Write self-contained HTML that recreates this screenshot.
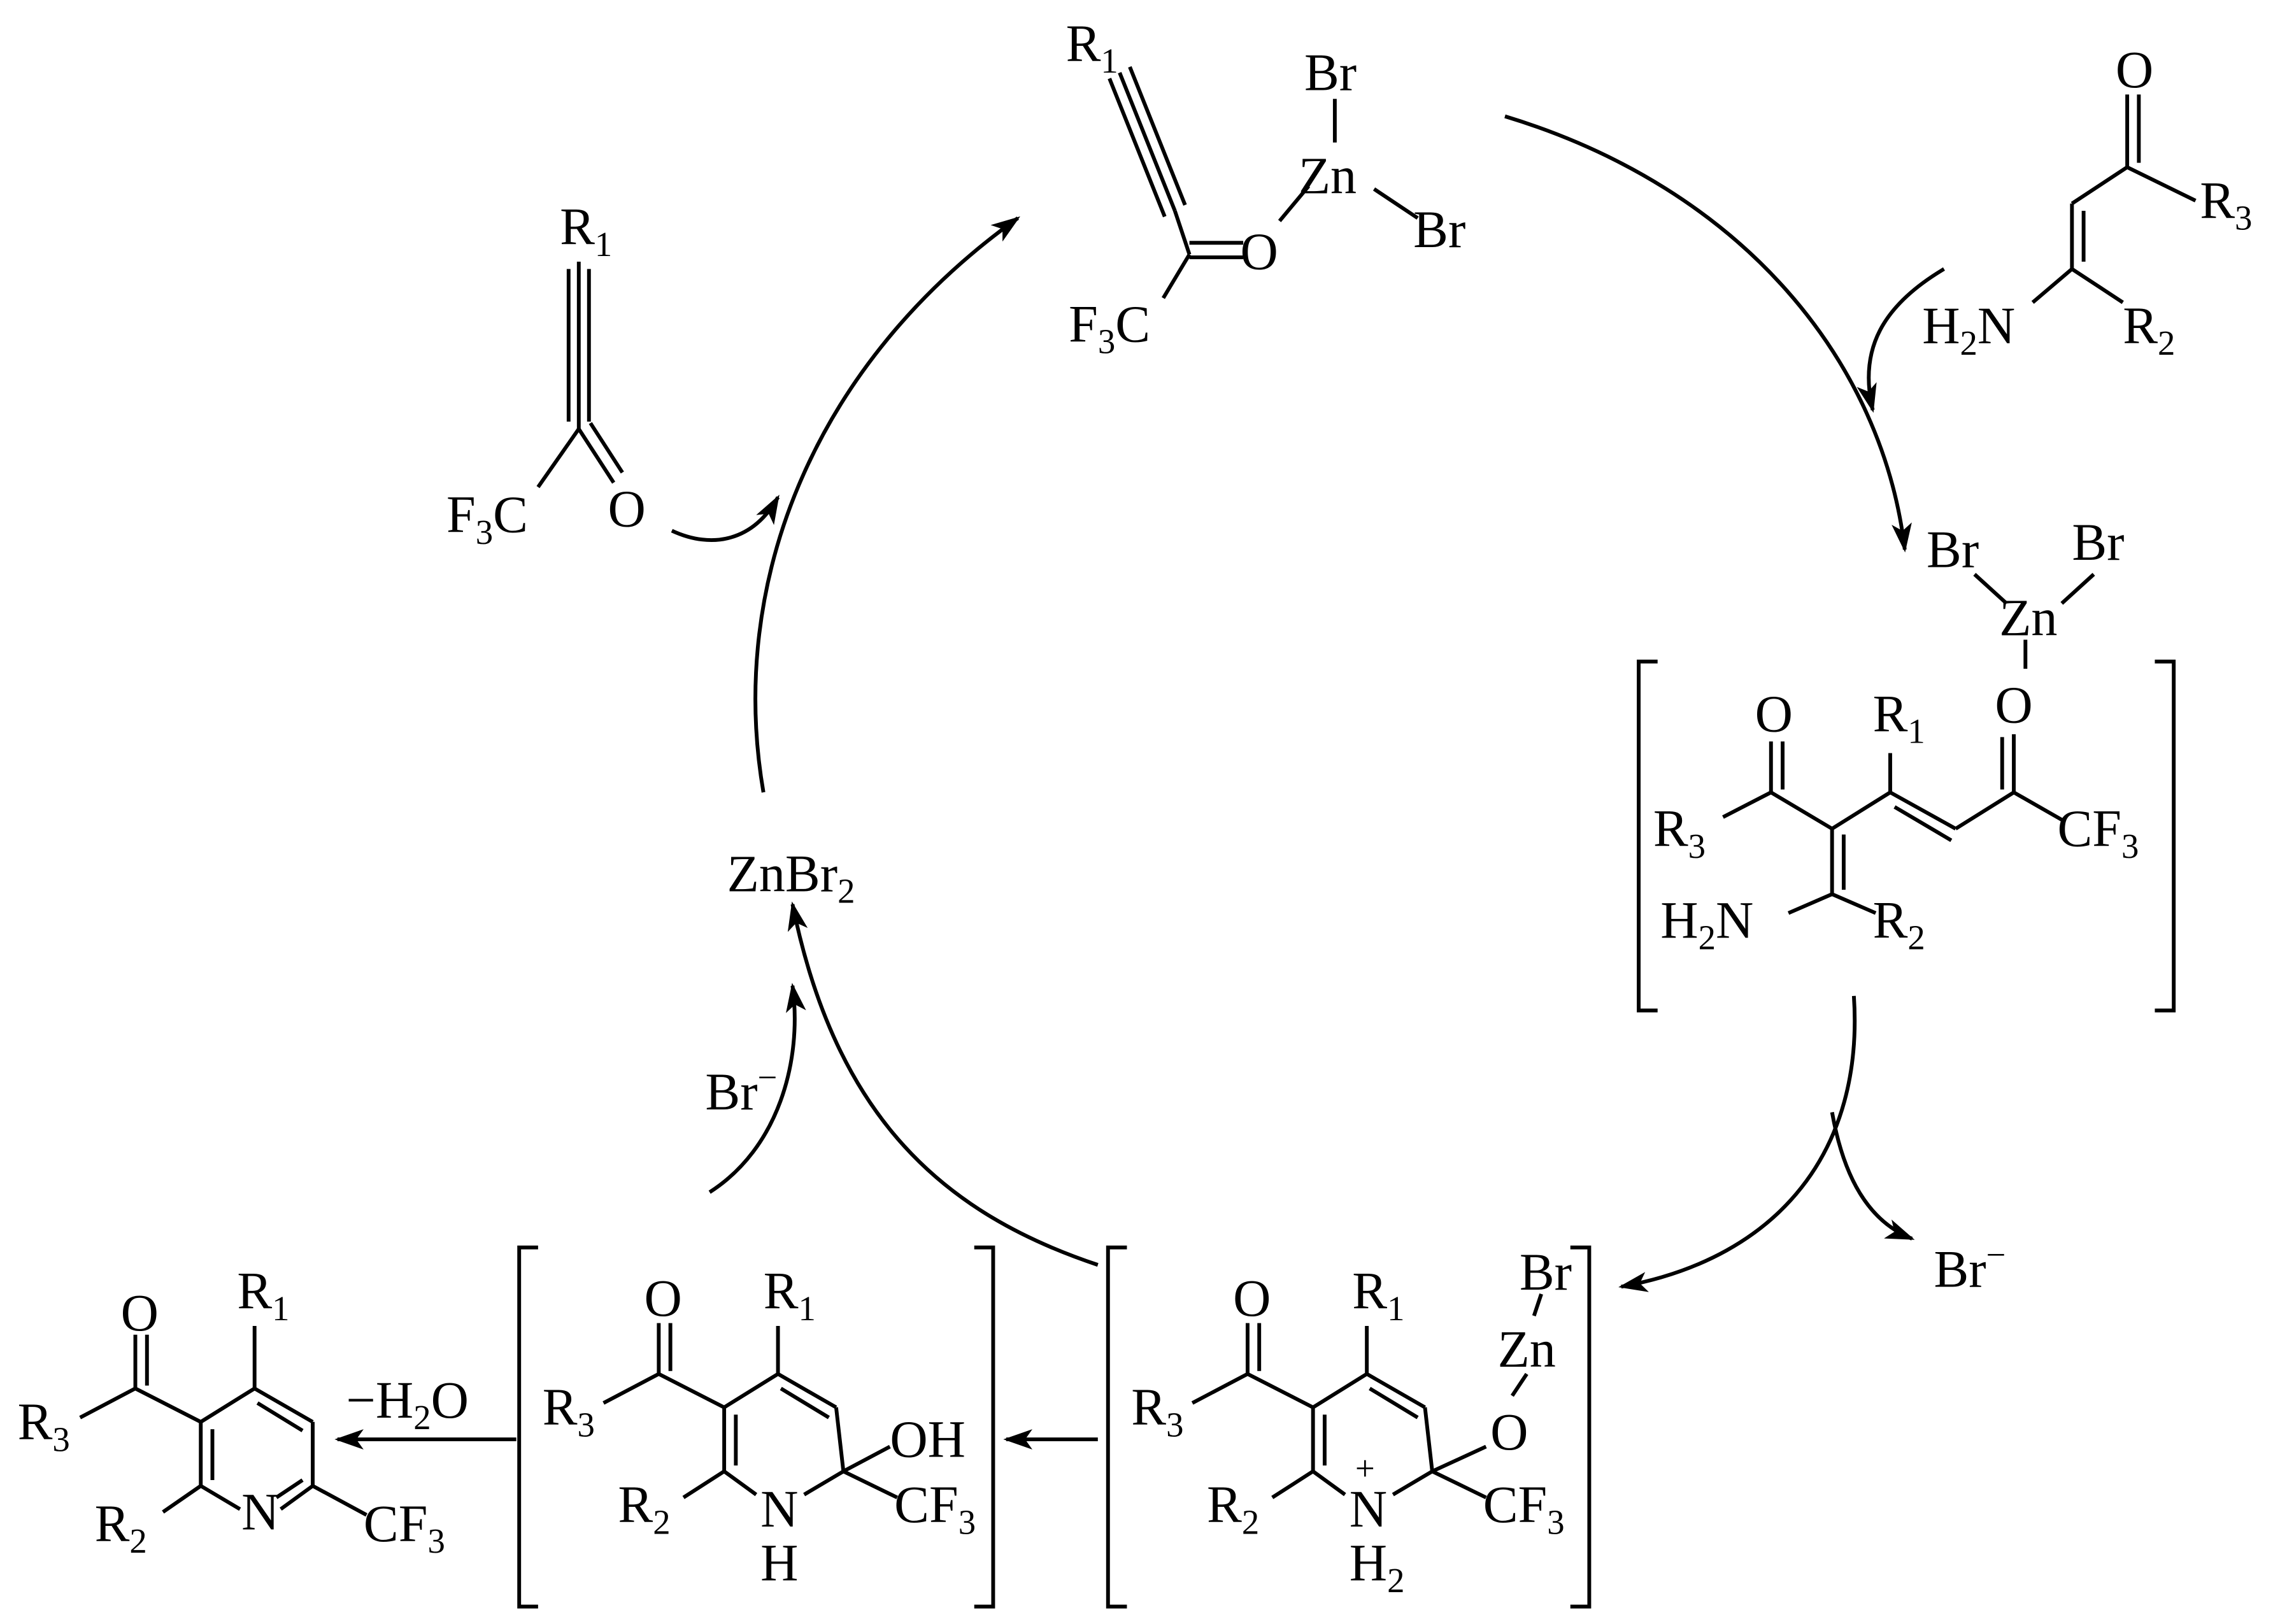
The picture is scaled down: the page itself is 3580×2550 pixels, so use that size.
<!DOCTYPE html>
<html><head><meta charset="utf-8"><style>
html,body{margin:0;padding:0;background:#fff}
svg{display:block}
text{font-family:"Liberation Serif",serif;font-size:36px;fill:#000}
.s{font-size:24px}
</style></head><body>
<svg width="3580" height="2550" viewBox="0 0 1568 1117" xmlns="http://www.w3.org/2000/svg">
<defs>
<marker id="a" viewBox="0 0 20 14" refX="18" refY="7" markerWidth="20" markerHeight="14" markerUnits="userSpaceOnUse" orient="auto">
<path d="M0,0 L20,7 L0,14 L5,7 Z" fill="#000"/></marker>
</defs>
<g stroke="#000" stroke-width="2.6" fill="none">
<!-- top center -->
<line x1="770" y1="50" x2="808" y2="145"/><line x1="763" y1="54" x2="801" y2="149"/><line x1="777" y1="46" x2="815" y2="141"/>
<line x1="808" y1="145" x2="818" y2="175"/>
<line x1="818" y1="167" x2="855" y2="167"/><line x1="818" y1="177" x2="855" y2="177"/>
<line x1="818" y1="175" x2="800" y2="205"/>
<line x1="880" y1="152" x2="900" y2="128"/>
<line x1="918" y1="68" x2="918" y2="98"/>
<line x1="945" y1="130" x2="975" y2="150"/>
<!-- left reagent -->
<line x1="398" y1="180" x2="398" y2="295"/><line x1="391" y1="185" x2="391" y2="290"/><line x1="405" y1="185" x2="405" y2="290"/>
<line x1="398" y1="295" x2="370" y2="335"/>
<line x1="398" y1="295" x2="422" y2="332"/><line x1="406" y1="291" x2="428" y2="325"/>
<!-- right reagent -->
<line x1="1463" y1="65" x2="1463" y2="115"/><line x1="1471" y1="65" x2="1471" y2="112"/>
<line x1="1463" y1="115" x2="1510" y2="138"/>
<line x1="1463" y1="115" x2="1425" y2="140"/>
<line x1="1425" y1="140" x2="1425" y2="185"/><line x1="1433" y1="145" x2="1433" y2="180"/>
<line x1="1425" y1="185" x2="1398" y2="208"/>
<line x1="1425" y1="185" x2="1460" y2="208"/>
<!-- right complex -->
<path d="M1140,455 H1127 V695 H1140"/><path d="M1482,455 H1495 V695 H1482"/>
<line x1="1358" y1="395" x2="1380" y2="415"/><line x1="1440" y1="395" x2="1418" y2="415"/>
<line x1="1393" y1="440" x2="1393" y2="460"/>
<line x1="1218" y1="510" x2="1218" y2="545"/><line x1="1226" y1="510" x2="1226" y2="543"/>
<line x1="1218" y1="545" x2="1185" y2="562"/>
<line x1="1218" y1="545" x2="1260" y2="570"/>
<line x1="1260" y1="570" x2="1260" y2="615"/><line x1="1268" y1="574" x2="1268" y2="612"/>
<line x1="1260" y1="615" x2="1230" y2="628"/><line x1="1260" y1="615" x2="1290" y2="628"/>
<line x1="1260" y1="570" x2="1300" y2="545"/>
<line x1="1300" y1="518" x2="1300" y2="545"/>
<line x1="1300" y1="545" x2="1345" y2="570"/><line x1="1303" y1="555" x2="1342" y2="578"/>
<line x1="1345" y1="570" x2="1385" y2="545"/>
<line x1="1385" y1="545" x2="1385" y2="505"/><line x1="1377" y1="543" x2="1377" y2="507"/>
<line x1="1385" y1="545" x2="1420" y2="565"/>
<!-- bottom right complex -->
<path d="M775,858 H762 V1105 H775"/><path d="M1080,858 H1093 V1105 H1080"/>
<line x1="858" y1="910" x2="858" y2="945"/><line x1="866" y1="910" x2="866" y2="943"/>
<line x1="858" y1="945" x2="820" y2="965"/>
<line x1="858" y1="945" x2="903" y2="968"/>
<line x1="903" y1="968" x2="940" y2="945"/>
<line x1="940" y1="945" x2="940" y2="912"/>
<line x1="940" y1="945" x2="980" y2="968"/><line x1="942" y1="955" x2="975" y2="975"/>
<line x1="980" y1="968" x2="985" y2="1012"/>
<line x1="903" y1="968" x2="903" y2="1012"/><line x1="911" y1="973" x2="911" y2="1008"/>
<line x1="903" y1="1012" x2="875" y2="1030"/>
<line x1="903" y1="1012" x2="925" y2="1028"/>
<line x1="985" y1="1012" x2="958" y2="1028"/>
<line x1="985" y1="1012" x2="1022" y2="995"/>
<line x1="985" y1="1012" x2="1022" y2="1030"/>
<line x1="1040" y1="960" x2="1050" y2="945"/>
<line x1="1055" y1="905" x2="1060" y2="890"/>
<!-- bottom middle -->
<path d="M370,858 H357 V1105 H370"/><path d="M670,858 H683 V1105 H670"/>
<line x1="453" y1="910" x2="453" y2="945"/><line x1="461" y1="910" x2="461" y2="943"/>
<line x1="453" y1="945" x2="415" y2="965"/>
<line x1="453" y1="945" x2="498" y2="968"/>
<line x1="498" y1="968" x2="535" y2="945"/>
<line x1="535" y1="945" x2="535" y2="912"/>
<line x1="535" y1="945" x2="575" y2="968"/><line x1="537" y1="955" x2="570" y2="975"/>
<line x1="575" y1="968" x2="580" y2="1012"/>
<line x1="498" y1="968" x2="498" y2="1012"/><line x1="506" y1="973" x2="506" y2="1008"/>
<line x1="498" y1="1012" x2="470" y2="1030"/>
<line x1="498" y1="1012" x2="520" y2="1028"/>
<line x1="580" y1="1012" x2="553" y2="1028"/>
<line x1="580" y1="1012" x2="612" y2="995"/>
<line x1="580" y1="1012" x2="617" y2="1030"/>
<!-- product -->
<line x1="93" y1="918" x2="93" y2="955"/><line x1="101" y1="918" x2="101" y2="953"/>
<line x1="93" y1="955" x2="55" y2="975"/>
<line x1="93" y1="955" x2="138" y2="978"/>
<line x1="138" y1="978" x2="175" y2="955"/>
<line x1="175" y1="955" x2="175" y2="912"/>
<line x1="175" y1="955" x2="215" y2="978"/><line x1="177" y1="965" x2="208" y2="984"/>
<line x1="215" y1="978" x2="215" y2="1022"/>
<line x1="138" y1="978" x2="138" y2="1022"/><line x1="146" y1="983" x2="146" y2="1018"/>
<line x1="138" y1="1022" x2="112" y2="1040"/>
<line x1="138" y1="1022" x2="165" y2="1038"/>
<line x1="215" y1="1022" x2="193" y2="1038"/><line x1="208" y1="1018" x2="190" y2="1030"/>
<line x1="215" y1="1022" x2="252" y2="1042"/>
<!-- arrows -->
<path d="M525,545 C500,400 560,250 700,150" marker-end="url(#a)"/>
<path d="M462,365 C490,378 518,372 535,342" marker-end="url(#a)"/>
<path d="M1035,80 C1200,130 1295,250 1310,378" marker-end="url(#a)"/>
<path d="M1337,185 C1295,210 1278,240 1288,282" marker-end="url(#a)"/>
<path d="M1275,685 C1282,790 1225,865 1115,885" marker-end="url(#a)"/>
<path d="M1260,765 C1268,810 1285,840 1315,852" marker-end="url(#a)"/>
<path d="M755,870 C650,835 575,770 545,622" marker-end="url(#a)"/>
<path d="M488,820 C535,790 552,730 545,678" marker-end="url(#a)"/>
<path d="M755,990 H692" marker-end="url(#a)"/>
<path d="M355,990 H232" marker-end="url(#a)"/>
</g>
<!-- labels -->
<text x="733" y="42">R<tspan class="s" dy="8">1</tspan></text>
<text x="897" y="62">Br</text>
<text x="893" y="133">Zn</text>
<text x="972" y="170">Br</text>
<text x="853" y="185">O</text>
<text x="735" y="235">F<tspan class="s" dy="8">3</tspan><tspan dy="-8">C</tspan></text>
<text x="385" y="168">R<tspan class="s" dy="8">1</tspan></text>
<text x="418" y="362">O</text>
<text x="307" y="366">F<tspan class="s" dy="8">3</tspan><tspan dy="-8">C</tspan></text>
<text x="1455" y="60">O</text>
<text x="1513" y="150">R<tspan class="s" dy="8">3</tspan></text>
<text x="1322" y="236">H<tspan class="s" dy="8">2</tspan><tspan dy="-8">N</tspan></text>
<text x="1460" y="236">R<tspan class="s" dy="8">2</tspan></text>
<text x="1325" y="390">Br</text>
<text x="1425" y="385">Br</text>
<text x="1375" y="437">Zn</text>
<text x="1372" y="497">O</text>
<text x="1207" y="503">O</text>
<text x="1288" y="503">R<tspan class="s" dy="8">1</tspan></text>
<text x="1137" y="582">R<tspan class="s" dy="8">3</tspan></text>
<text x="1415" y="582">CF<tspan class="s" dy="8">3</tspan></text>
<text x="1142" y="645">H<tspan class="s" dy="8">2</tspan><tspan dy="-8">N</tspan></text>
<text x="1288" y="645">R<tspan class="s" dy="8">2</tspan></text>
<text x="1330" y="885">Br<tspan class="s" dy="-14">−</tspan></text>
<text x="500" y="613">ZnBr<tspan class="s" dy="8">2</tspan></text>
<text x="485" y="763">Br<tspan class="s" dy="-14">−</tspan></text>
<!-- bottom right labels -->
<text x="848" y="905">O</text>
<text x="930" y="900">R<tspan class="s" dy="8">1</tspan></text>
<text x="1045" y="887">Br</text>
<text x="1030" y="940">Zn</text>
<text x="1025" y="997">O</text>
<text x="778" y="980">R<tspan class="s" dy="8">3</tspan></text>
<text x="1020" y="1047">CF<tspan class="s" dy="8">3</tspan></text>
<text x="830" y="1047">R<tspan class="s" dy="8">2</tspan></text>
<text x="928" y="1050">N</text>
<text x="932" y="1018" class="s">+</text>
<text x="928" y="1087">H<tspan class="s" dy="8">2</tspan></text>
<!-- bottom middle labels -->
<text x="443" y="905">O</text>
<text x="525" y="900">R<tspan class="s" dy="8">1</tspan></text>
<text x="373" y="980">R<tspan class="s" dy="8">3</tspan></text>
<text x="612" y="1002">OH</text>
<text x="615" y="1047">CF<tspan class="s" dy="8">3</tspan></text>
<text x="425" y="1047">R<tspan class="s" dy="8">2</tspan></text>
<text x="523" y="1050">N</text>
<text x="523" y="1087">H</text>
<!-- product labels -->
<text x="83" y="915">O</text>
<text x="163" y="900">R<tspan class="s" dy="8">1</tspan></text>
<text x="12" y="990">R<tspan class="s" dy="8">3</tspan></text>
<text x="65" y="1060">R<tspan class="s" dy="8">2</tspan></text>
<text x="166" y="1052">N</text>
<text x="250" y="1060">CF<tspan class="s" dy="8">3</tspan></text>
<text x="238" y="975">−H<tspan class="s" dy="8">2</tspan><tspan dy="-8">O</tspan></text>
</svg>
</body></html>
